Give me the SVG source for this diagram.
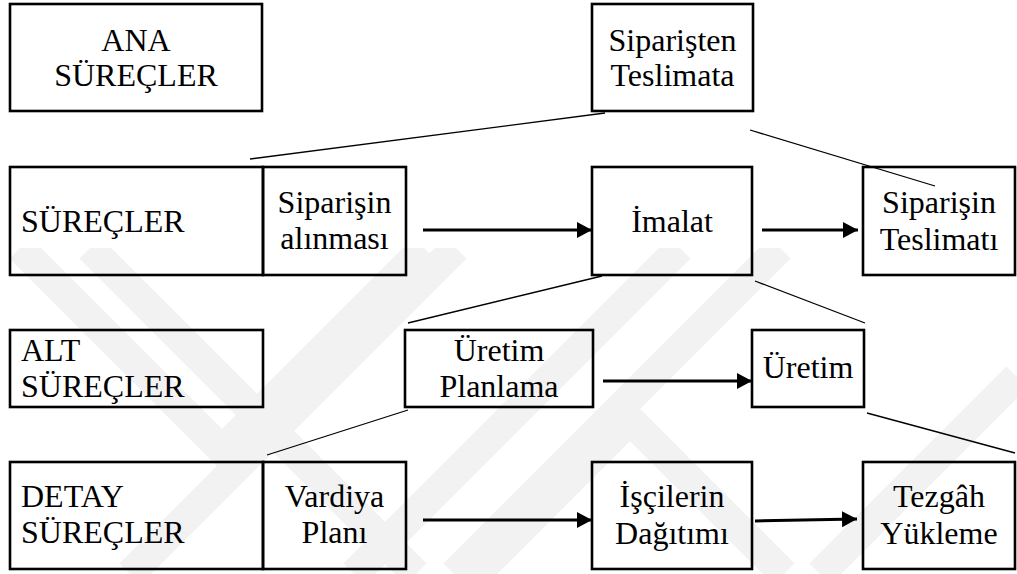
<svg xmlns="http://www.w3.org/2000/svg" width="1017" height="574" viewBox="0 0 1017 574">
<style>
.box{fill:none;stroke:#000;stroke-width:2.6}
.t{font-family:'Liberation Serif','Times New Roman',serif;font-size:32px;fill:#000}
.c{text-anchor:middle}
.ln{stroke:#000;stroke-width:1.3;fill:none}
.ar{stroke:#000;stroke-width:3;fill:none;marker-end:url(#ah)}
.wm{stroke:#f2f2f2;stroke-width:30;fill:none;stroke-linecap:butt}
</style>
<defs>
<marker id="ah" markerUnits="userSpaceOnUse" markerWidth="16" markerHeight="16" refX="15" refY="8" orient="auto">
<path d="M0,0 L15,8 L0,16 z" fill="#000"/>
</marker>
<clipPath id="wmclip"><rect x="0" y="248" width="1017" height="326"/></clipPath>
</defs>
<rect width="1017" height="574" fill="#fff"/>
<g id="watermark" clip-path="url(#wmclip)">
<path class="wm" d="M20,248 L222,450 L424,248"/>
<path class="wm" d="M90,248 L416,574"/>
<path class="wm" d="M130,574 L456,248"/>
<path class="wm" d="M476,574 L630,420 L784,574"/>
<path class="wm" d="M354,574 L680,248"/>
<path class="wm" d="M454,574 L780,248"/>
<path class="wm" d="M820,574 L1017,377"/>
</g>
<g id="connectors">
<line class="ln" x1="605" y1="113" x2="250" y2="159"/>
<line class="ln" x1="750" y1="130" x2="935" y2="186"/>
<line class="ln" x1="602" y1="276" x2="408" y2="323"/>
<line class="ln" x1="755" y1="281" x2="865" y2="323"/>
<line class="ln" x1="408" y1="410" x2="267" y2="455"/>
<line class="ln" x1="867" y1="413" x2="1015" y2="453"/>
<line class="ar" x1="423" y1="230" x2="592" y2="230"/>
<line class="ar" x1="762" y1="230" x2="858" y2="230"/>
<line class="ar" x1="603" y1="381" x2="752" y2="381"/>
<line class="ar" x1="423" y1="520" x2="592" y2="520"/>
<line class="ar" x1="755" y1="521" x2="857" y2="519"/>
</g>
<g id="ana-surecler">
<rect class="box" x="10" y="4" width="252" height="107"/>
<text class="t c" x="136" y="51">ANA</text>
<text class="t c" x="136" y="86">SÜREÇLER</text>
</g>
<g id="siparisten-teslimata">
<rect class="box" x="592" y="4" width="161" height="107"/>
<text class="t c" x="672.5" y="51">Siparişten</text>
<text class="t c" x="672.5" y="86">Teslimata</text>
</g>
<g id="surecler">
<rect class="box" x="10" y="167" width="253" height="108"/>
<text class="t" x="21" y="232">SÜREÇLER</text>
</g>
<g id="siparisin-alinmasi">
<rect class="box" x="263" y="167" width="143" height="108"/>
<text class="t c" x="334.5" y="213">Siparişin</text>
<text class="t c" x="334.5" y="249">alınması</text>
</g>
<g id="imalat">
<rect class="box" x="592" y="167" width="160" height="108"/>
<text class="t c" x="672" y="232">İmalat</text>
</g>
<g id="siparisin-teslimati">
<rect class="box" x="863" y="167" width="152" height="108"/>
<text class="t c" x="939" y="213">Siparişin</text>
<text class="t c" x="939" y="250">Teslimatı</text>
</g>
<g id="alt-surecler">
<rect class="box" x="10" y="330" width="253" height="77"/>
<text class="t" x="21" y="361">ALT</text>
<text class="t" x="21" y="397">SÜREÇLER</text>
</g>
<g id="uretim-planlama">
<rect class="box" x="405" y="330" width="188" height="77"/>
<text class="t c" x="499" y="361">Üretim</text>
<text class="t c" x="499" y="397">Planlama</text>
</g>
<g id="uretim">
<rect class="box" x="752" y="330" width="112" height="77"/>
<text class="t c" x="808" y="378">Üretim</text>
</g>
<g id="detay-surecler">
<rect class="box" x="10" y="462" width="253" height="107"/>
<text class="t" x="21" y="507">DETAY</text>
<text class="t" x="21" y="543">SÜREÇLER</text>
</g>
<g id="vardiya-plani">
<rect class="box" x="263" y="462" width="143" height="107"/>
<text class="t c" x="334.5" y="507">Vardiya</text>
<text class="t c" x="334.5" y="543">Planı</text>
</g>
<g id="iscilerin-dagitimi">
<rect class="box" x="592" y="462" width="160" height="107"/>
<text class="t c" x="672" y="507">İşçilerin</text>
<text class="t c" x="672" y="544">Dağıtımı</text>
</g>
<g id="tezgah-yukleme">
<rect class="box" x="863" y="462" width="152" height="107"/>
<text class="t c" x="939" y="507">Tezgâh</text>
<text class="t c" x="939" y="544">Yükleme</text>
</g>
</svg>
